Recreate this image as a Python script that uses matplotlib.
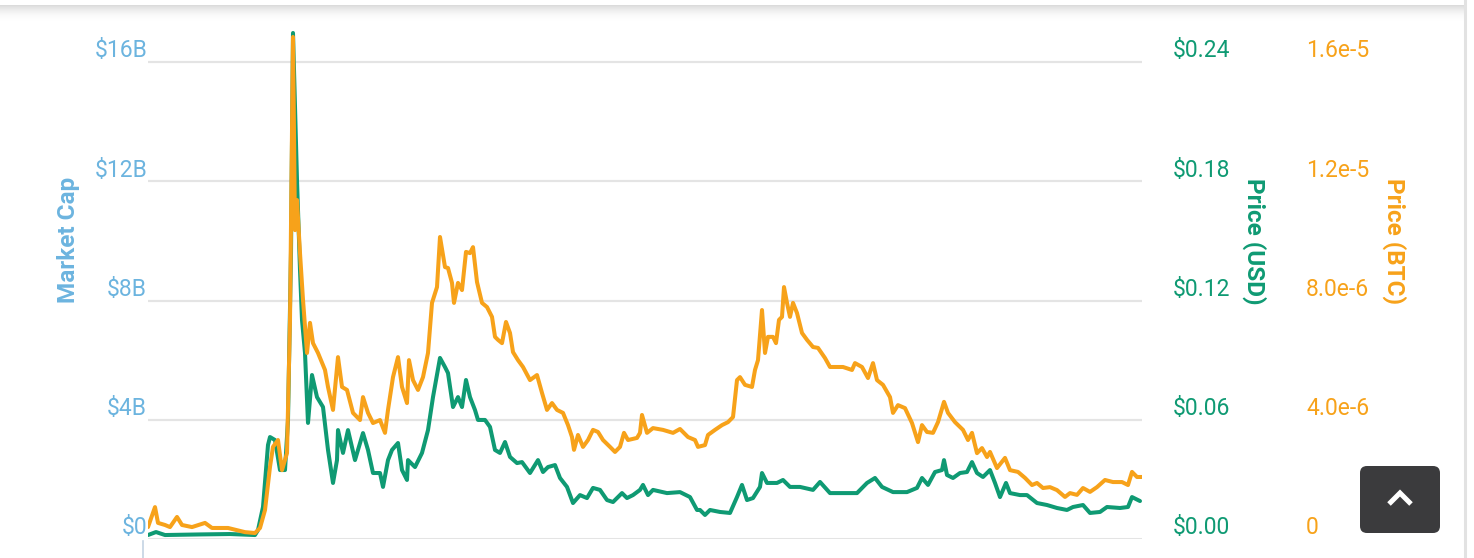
import numpy as np
import matplotlib.pyplot as plt
from matplotlib.patches import FancyBboxPatch, Rectangle
from matplotlib.transforms import ScaledTranslation, blended_transform_factory

plt.rcParams['font.family'] = ['Roboto', 'DejaVu Sans']

# price in USD, sampled on a day index
usd_day = [0, 8, 17, 52, 82, 107, 110, 115, 120, 122, 127, 132, 137, 140, 143, 145,
           149, 152, 154, 157, 160, 164, 169, 175, 180, 185, 189, 190, 195, 200, 207,
           215, 220, 225, 232, 235, 240, 244, 250, 254, 259, 260, 267, 274, 280, 285,
           292, 297, 300, 305, 310, 314, 318, 322, 327, 330, 337, 342, 347, 352, 357,
           362, 369, 374, 382, 390, 395, 400, 407, 412, 419, 425, 432, 439, 445, 452,
           459, 465, 474, 479, 485, 492, 495, 500, 505, 519, 532, 542, 549, 552, 557,
           562, 572, 582, 589, 594, 599, 605, 612, 614, 619, 629, 635, 642, 652, 665,
           672, 682, 695, 709, 719, 727, 734, 745, 759, 769, 774, 780, 787, 794, 796,
           799, 805, 812, 819, 824, 829, 835, 842, 847, 852, 858, 862, 872, 879, 889,
           899, 909, 919, 925, 935, 942, 952, 959, 972, 980, 984, 992]
usd_price = [0.0020, 0.0035, 0.0020, 0.0023, 0.0025, 0.0020, 0.0045, 0.0161, 0.0473,
             0.0513, 0.0498, 0.0347, 0.0347, 0.0599, 0.1439, 0.2546, 0.1806, 0.1353,
             0.1102, 0.0936, 0.0584, 0.0825, 0.0714, 0.0664, 0.0448, 0.0282, 0.0397,
             0.0548, 0.0433, 0.0548, 0.0397, 0.0533, 0.0448, 0.0332, 0.0332, 0.0262,
             0.0397, 0.0448, 0.0483, 0.0347, 0.0297, 0.0397, 0.0362, 0.0433, 0.0548,
             0.0714, 0.0911, 0.0865, 0.0835, 0.0664, 0.0714, 0.0664, 0.0800, 0.0714,
             0.0649, 0.0599, 0.0599, 0.0564, 0.0448, 0.0433, 0.0488, 0.0413, 0.0382,
             0.0387, 0.0332, 0.0397, 0.0337, 0.0362, 0.0372, 0.0307, 0.0262, 0.0181,
             0.0221, 0.0206, 0.0257, 0.0247, 0.0196, 0.0186, 0.0231, 0.0206, 0.0221,
             0.0247, 0.0272, 0.0221, 0.0247, 0.0231, 0.0236, 0.0211, 0.0146, 0.0146,
             0.0121, 0.0146, 0.0136, 0.0131, 0.0211, 0.0272, 0.0196, 0.0206, 0.0262,
             0.0332, 0.0282, 0.0282, 0.0297, 0.0262, 0.0262, 0.0247, 0.0287, 0.0231,
             0.0231, 0.0231, 0.0282, 0.0307, 0.0262, 0.0236, 0.0236, 0.0257, 0.0307,
             0.0272, 0.0337, 0.0347, 0.0397, 0.0322, 0.0307, 0.0332, 0.0337, 0.0387,
             0.0332, 0.0312, 0.0347, 0.0282, 0.0211, 0.0282, 0.0231, 0.0221, 0.0221,
             0.0181, 0.0171, 0.0156, 0.0146, 0.0161, 0.0171, 0.0131, 0.0136, 0.0161,
             0.0156, 0.0161, 0.0211, 0.0191]

# price in BTC (millionths of a BTC)
btc_day = [0, 7, 10, 17, 22, 29, 34, 44, 57, 64, 80, 97, 107, 112, 117, 122, 125, 130,
           134, 139, 142, 145, 147, 149, 152, 155, 159, 162, 165, 170, 177, 180, 185,
           190, 194, 199, 205, 212, 215, 220, 225, 232, 237, 240, 245, 250, 254, 259,
           261, 265, 270, 275, 280, 284, 289, 292, 297, 300, 304, 306, 310, 314, 318,
           322, 325, 329, 334, 339, 344, 347, 350, 354, 358, 362, 365, 370, 375, 382,
           389, 394, 399, 404, 409, 415, 420, 424, 426, 430, 435, 440, 445, 450, 455,
           462, 467, 472, 476, 480, 489, 492, 494, 499, 505, 515, 525, 532, 540, 547,
           550, 557, 560, 567, 574, 580, 585, 589, 592, 597, 604, 607, 610, 614, 617,
           620, 625, 628, 631, 634, 636, 639, 642, 645, 649, 654, 659, 665, 670, 677,
           682, 689, 695, 704, 707, 714, 720, 725, 729, 735, 742, 745, 750, 757, 764,
           770, 774, 779, 785, 790, 796, 800, 807, 815, 820, 824, 829, 834, 839, 842,
           849, 857, 862, 870, 877, 884, 889, 895, 902, 909, 917, 922, 929, 935, 942,
           949, 957, 965, 974, 980, 984, 989, 994]
btc_price_micro = [0.40, 1.07, 0.54, 0.47, 0.40, 0.74, 0.47, 0.40, 0.54, 0.37, 0.37,
                   0.23, 0.20, 0.37, 0.97, 2.42, 3.09, 3.32, 2.31, 2.88, 7.35, 16.84,
                   10.36, 11.37, 9.59, 8.02, 6.24, 7.25, 6.57, 6.24, 5.67, 5.10, 4.33,
                   6.10, 5.10, 5.00, 4.23, 3.99, 4.76, 4.23, 3.89, 3.99, 3.56, 4.33,
                   5.43, 6.10, 5.10, 4.56, 6.00, 5.33, 5.00, 5.43, 6.24, 7.92, 8.45,
                   10.13, 9.12, 9.09, 8.59, 7.92, 8.59, 8.35, 9.63, 9.59, 9.79, 8.62,
                   7.92, 7.78, 7.45, 6.78, 6.68, 6.57, 7.28, 6.91, 6.27, 6.00, 5.77,
                   5.33, 5.50, 4.90, 4.33, 4.56, 4.33, 4.23, 3.82, 3.42, 2.99, 3.49,
                   3.09, 3.32, 3.66, 3.59, 3.32, 3.09, 2.92, 3.09, 3.56, 3.32, 3.39,
                   3.56, 4.16, 3.56, 3.72, 3.66, 3.56, 3.69, 3.42, 3.32, 3.09, 3.15,
                   3.49, 3.66, 3.82, 3.92, 4.09, 5.33, 5.43, 5.17, 5.10, 5.67, 6.00,
                   7.68, 6.24, 6.78, 6.78, 6.57, 7.35, 7.45, 8.45, 7.92, 7.45, 7.92,
                   7.58, 6.91, 6.68, 6.44, 6.41, 6.07, 5.77, 5.77, 5.77, 5.67, 5.90,
                   5.77, 5.40, 5.90, 5.33, 5.17, 4.76, 4.23, 4.49, 4.39, 3.89, 3.25,
                   3.82, 3.59, 3.56, 3.92, 4.60, 4.23, 3.92, 3.66, 3.32, 3.56, 2.88,
                   3.05, 2.75, 2.92, 2.38, 2.72, 2.31, 2.25, 2.05, 1.81, 1.88, 1.71,
                   1.74, 1.64, 1.41, 1.54, 1.48, 1.71, 1.58, 1.74, 1.98, 1.91, 1.91,
                   1.81, 2.25, 2.08, 2.08]

cap_ticks = [0, 4e9, 8e9, 12e9, 16e9]
cap_labels = ['$0', '$4B', '$8B', '$12B', '$16B']
usd_ticks = [0, 0.06, 0.12, 0.18, 0.24]
usd_labels = ['$0.00', '$0.06', '$0.12', '$0.18', '$0.24']
btc_ticks = [0, 4e-6, 8e-6, 1.2e-5, 1.6e-5]
btc_labels = ['0', '4.0e-6', '8.0e-6', '1.2e-5', '1.6e-5']

blue = '#6cb4df'
green = '#0f9a73'
orange = '#f7a21a'

W, H = 1474, 558
fig = plt.figure(figsize=(W / 100, H / 100), dpi=100)
fig.patch.set_facecolor('white')

ax = fig.add_axes([148 / W, (H - 539) / H, (1142 - 148) / W, (539 - 25) / H])
ax2 = ax.twinx()
ax3 = ax.twinx()

extra = 514 / 477  # headroom above the top gridline
ax.set_ylim(0, 16e9 * extra)
ax2.set_ylim(0, 0.24 * extra)
ax3.set_ylim(0, 1.6e-5 * extra)
for a in (ax, ax2, ax3):
    a.set_xlim(0, 994)
    a.set_xticks([])
    a.set_yticks([])
    for s in a.spines.values():
        s.set_visible(False)
    a.patch.set_visible(False)

for v in cap_ticks:
    ax.axhline(v, color='#e4e4e4', lw=1.6 if v else 2.2, zorder=0)

ax2.plot(usd_day, usd_price, color=green, lw=2.9, solid_joinstyle='round',
         solid_capstyle='round')
ax3.plot(btc_day, np.array(btc_price_micro) * 1e-6, color=orange, lw=2.9,
         solid_joinstyle='round', solid_capstyle='round')

# tick labels sit just above their gridlines
up = ScaledTranslation(0, 0.11, fig.dpi_scale_trans)
for a, ticks, labels, xpos, ha, col in [
        (ax, cap_ticks, cap_labels, -0.001, 'right', blue),
        (ax2, usd_ticks, usd_labels, 1.031, 'left', green),
        (ax3, btc_ticks, btc_labels, 1.165, 'left', orange)]:
    tr = blended_transform_factory(a.transAxes, a.transData) + up
    for v, lab in zip(ticks, labels):
        a.text(xpos, v, lab, transform=tr, ha=ha, va='center', color=col,
               fontsize=16.5, clip_on=False)

fig.text(69 / W, 1 - 240 / H, 'Market Cap', rotation=90, color=blue,
         fontsize=17.5, fontweight='bold', ha='center', va='center')
fig.text(1254 / W, 1 - 241 / H, 'Price (USD)', rotation=270, color=green,
         fontsize=17.5, fontweight='bold', ha='center', va='center')
fig.text(1394 / W, 1 - 241 / H, 'Price (BTC)', rotation=270, color=orange,
         fontsize=17.5, fontweight='bold', ha='center', va='center')

# page decorations: card shadow, border, back-to-top button
deco = fig.add_axes([0, 0, 1, 1], zorder=5)
deco.set_xlim(0, W)
deco.set_ylim(H, 0)
deco.axis('off')
for i in range(16):
    deco.add_patch(Rectangle((0, 5 + i), 1465, 1, color='#d8d8d8',
                             alpha=0.9 * (1 - i / 16) ** 2, lw=0))
deco.plot([1465, 1465], [0, H], color='#e2e2e2', lw=2.2)
deco.plot([143, 143], [541, H], color='#c3d3e3', lw=1.2)
deco.add_patch(FancyBboxPatch((1360, 466), 80, 67,
                              boxstyle='round,pad=0,rounding_size=7',
                              fc='#3b3b3d', ec='none'))
deco.plot([1389, 1400, 1411], [504, 493, 504], color='white', lw=3.6,
          solid_capstyle='butt', solid_joinstyle='miter')

fig.savefig('out.png', dpi=100)
